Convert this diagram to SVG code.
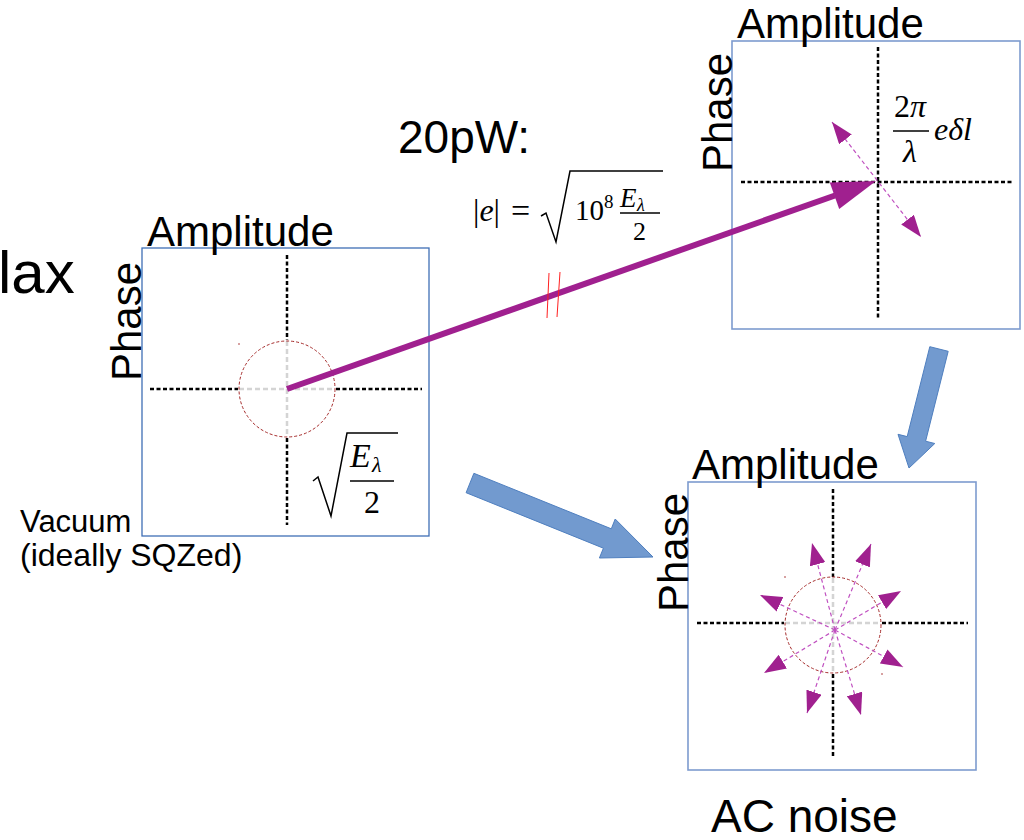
<svg xmlns="http://www.w3.org/2000/svg" width="1024" height="840" viewBox="0 0 1024 840">
<style>
.lbl{font-family:"Liberation Sans",Arial,sans-serif;fill:#000}
.box1{fill:#fff;stroke:#3f6fb5;stroke-width:1.3}
.box2{fill:#fff;stroke:#7d9bcf;stroke-width:1.6}
.ax{stroke:#000;stroke-width:2.5;stroke-dasharray:4 2.5;fill:none}
.axg{stroke:#d4d4d4;stroke-width:2.5;stroke-dasharray:5 3;fill:none}
.circ{fill:none;stroke:#a52a2a;stroke-width:1;stroke-dasharray:3 2}
.ray{stroke:#c050c0;stroke-width:1.2;stroke-dasharray:4 3;fill:none}
.math{font-family:"Liberation Serif","Times New Roman",serif;fill:#000}
.it{font-style:italic}
.bar{stroke:#000;stroke-width:1.4}
.blue{fill:#729acf;stroke:#4f7fbf;stroke-width:1}
</style>
<defs>
<marker id="hd" markerUnits="userSpaceOnUse" viewBox="0 0 22 16" markerWidth="22" markerHeight="16" refX="22" refY="8" orient="auto-start-reverse">
<path d="M0,0 L22,8 L0,16 z" fill="#a0208f"/>
</marker>
</defs>

<text class="lbl" x="-2" y="293" font-size="60">lax</text>
<text class="lbl" x="398" y="153" font-size="46">20pW:</text>
<text class="lbl" x="711" y="832" font-size="46">AC noise</text>
<text class="lbl" x="20" y="532" font-size="31">Vacuum</text>
<text class="lbl" x="20" y="566" font-size="32">(ideally SQZed)</text>

<g id="node-vacuum">
<rect class="box1" x="142" y="248" width="287" height="288"/>
<line class="ax" x1="150" y1="389" x2="238" y2="389"/>
<line class="ax" x1="336" y1="389" x2="422" y2="389"/>
<line class="ax" x1="287" y1="255" x2="287" y2="340"/>
<line class="ax" x1="287" y1="438" x2="287" y2="525"/>
<line class="axg" x1="239" y1="389" x2="335" y2="389"/>
<line class="axg" x1="287" y1="341" x2="287" y2="437"/>
<circle class="circ" cx="287" cy="389" r="48"/>
<circle cx="239" cy="344" r="0.8" fill="#a52a2a"/>
<text class="lbl" x="147" y="246" font-size="42">Amplitude</text>
<text class="lbl" font-size="42" transform="translate(141,381) rotate(-90)">Phase</text>
<polyline points="313,481 318,477 331,516 347,433 398,433" fill="none" stroke="#000" stroke-width="1.5"/>
<text class="math it" x="350" y="467" font-size="34">E</text>
<text class="math it" x="372" y="472" font-size="22">λ</text>
<line class="bar" x1="350" y1="481" x2="394" y2="481"/>
<text class="math" x="364" y="513" font-size="32">2</text>
</g>

<g id="node-signal">
<rect class="box2" x="732" y="41" width="288" height="288"/>
<line class="ax" x1="741" y1="182" x2="1012" y2="182"/>
<line class="ax" x1="878" y1="47" x2="878" y2="318"/>
<text class="lbl" x="737" y="38" font-size="42">Amplitude</text>
<text class="lbl" font-size="42" transform="translate(732,172) rotate(-90)">Phase</text>
<text class="math" x="894" y="117" font-size="32">2<tspan class="it">π</tspan></text>
<line class="bar" x1="893" y1="131" x2="929" y2="131"/>
<text class="math it" x="903" y="162" font-size="32">λ</text>
<text class="math it" x="934" y="140" font-size="32">eδl</text>
<line class="ray" x1="832" y1="122" x2="921" y2="237" marker-start="url(#hd)" marker-end="url(#hd)"/>
</g>

<g id="node-acnoise">
<rect class="box2" x="688" y="482" width="288" height="288"/>
<line class="ax" x1="697" y1="623" x2="784" y2="623"/>
<line class="ax" x1="882" y1="623" x2="968" y2="623"/>
<line class="ax" x1="833" y1="489" x2="833" y2="577"/>
<line class="ax" x1="833" y1="674" x2="833" y2="758"/>
<line class="axg" x1="785" y1="623" x2="881" y2="623"/>
<line class="axg" x1="833" y1="578" x2="833" y2="673"/>
<circle class="circ" cx="833" cy="625" r="48"/>
<circle cx="785" cy="577" r="0.8" fill="#a52a2a"/>
<circle cx="882" cy="674" r="0.8" fill="#a52a2a"/>
<text class="lbl" x="692" y="479" font-size="42">Amplitude</text>
<text class="lbl" font-size="42" transform="translate(688,612) rotate(-90)">Phase</text>
<g marker-end="url(#hd)">
<line class="ray" x1="835" y1="630" x2="812" y2="543"/>
<line class="ray" x1="835" y1="630" x2="871" y2="544"/>
<line class="ray" x1="835" y1="630" x2="901" y2="591"/>
<line class="ray" x1="835" y1="630" x2="903" y2="667"/>
<line class="ray" x1="835" y1="630" x2="861" y2="715"/>
<line class="ray" x1="835" y1="630" x2="807" y2="713"/>
<line class="ray" x1="835" y1="630" x2="764" y2="673"/>
<line class="ray" x1="835" y1="630" x2="760" y2="595"/>
</g>
</g>

<g id="formula-e">
<text class="math" x="473" y="221" font-size="32">|<tspan class="it">e</tspan>|</text>
<text class="math" x="511" y="222" font-size="34">=</text>
<polyline points="541,216 546,213 556,242 570,171 663,171" fill="none" stroke="#000" stroke-width="1.5"/>
<text class="math" x="575" y="220" font-size="29">10</text>
<text class="math" x="604" y="208" font-size="19">8</text>
<text class="math it" x="620" y="207" font-size="27">E</text>
<text class="math it" x="637" y="211" font-size="18">λ</text>
<line class="bar" x1="620" y1="213" x2="660" y2="213"/>
<text class="math" x="633" y="240" font-size="26">2</text>
</g>

<g id="connectors">
<line x1="287" y1="389" x2="835" y2="195.5" stroke="#a0208f" stroke-width="6"/>
<polygon points="876,181 829.8,182.5 839.2,208.9" fill="#a0208f"/>
<line x1="549" y1="273" x2="547" y2="318" stroke="#ff2020" stroke-width="1"/>
<line x1="560" y1="272" x2="557" y2="317" stroke="#ff2020" stroke-width="1"/>
<polygon class="blue" points="473.9,473.3 611.3,528.8 615.2,519 653,557 599.4,558 603.4,548.2 466.1,492.7"/>
<polygon class="blue" points="929.8,346.7 907.2,436.6 898,434.3 909,468 934.8,443.5 925.6,441.2 948.2,351.3"/>
</g>
</svg>
